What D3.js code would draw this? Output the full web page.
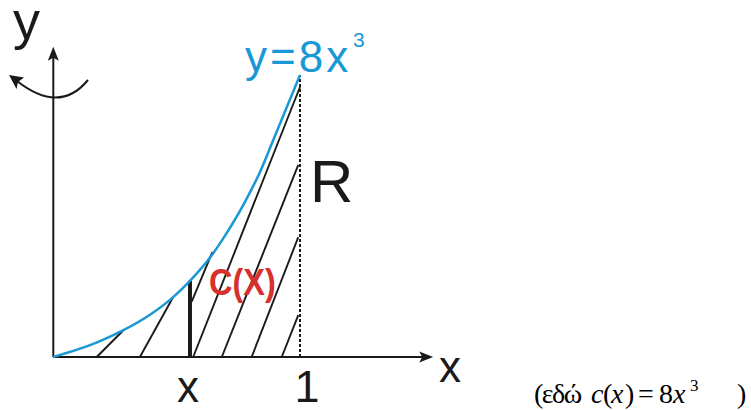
<!DOCTYPE html>
<html>
<head>
<meta charset="utf-8">
<script src="https://cdn.jsdelivr.net/npm/d3@7"></script>
<style>
  html, body { margin: 0; padding: 0; background: #fff; }
  svg { display: block; }
</style>
</head>
<body>
<div id="chart"></div>
<script>
// curve y = 8x^3 as drawn
const curveX = [0, 0.18, 0.284, 0.392, 0.486, 0.554, 0.649, 0.683, 0.777, 0.838, 0.9, 1.0];
const curveY = [0, 0.42, 0.76, 1.2, 1.7, 2.16, 2.95, 3.3, 4.4, 5.25, 6.3, 8.0];

// hatch strokes of region R: [x0, y0, x1, y1]
const hatchLines = [
  [0.176, 0, 0.284, 0.76],
  [0.351, 0, 0.486, 1.7],
  [0.561, 1.57, 0.645, 2.98],
  [0.567, 0, 1.0, 7.66],
  [0.683, 0, 0.993, 5.45],
  [0.804, 0, 0.993, 3.40],
  [0.926, 0, 0.993, 1.19]
];

const sliceX = 0.554;      // the thick segment c(x)
const sliceTop = 2.16;
const rightEdge = 1;       // dashed line x = 1
const rightTop = 8;
const axisMaxX = 1.54;
const axisMaxY = 8.8;

const width = 751, height = 410;
const blue = "#1a98d5", red = "#d8302c", ink = "#1a1a1a";

const x = d3.scaleLinear().domain([0, 1]).range([53.3, 300]);
const y = d3.scaleLinear().domain([0, 8]).range([357, 75]);

const svg = d3.select("#chart").append("svg")
  .attr("width", width)
  .attr("height", height)
  .style("font-family", "'Liberation Sans', Arial, sans-serif");

// hatching
svg.append("g")
  .selectAll("line")
  .data(hatchLines)
  .join("line")
  .attr("x1", d => x(d[0])).attr("y1", d => y(d[1]))
  .attr("x2", d => x(d[2])).attr("y2", d => y(d[3]))
  .attr("stroke", ink)
  .attr("stroke-width", 1.9);

// dashed right boundary
svg.append("line")
  .attr("x1", x(rightEdge)).attr("x2", x(rightEdge))
  .attr("y1", y(0)).attr("y2", y(rightTop))
  .attr("stroke", ink)
  .attr("stroke-width", 2)
  .attr("stroke-dasharray", "3,2");

// thick slice
svg.append("line")
  .attr("x1", x(sliceX)).attr("x2", x(sliceX))
  .attr("y1", y(0)).attr("y2", y(sliceTop))
  .attr("stroke", ink)
  .attr("stroke-width", 4);

// axes
const axisG = svg.append("g").attr("stroke", ink).attr("stroke-width", 2);
axisG.append("line")
  .attr("x1", x(0)).attr("y1", y(0))
  .attr("x2", x(axisMaxX) - 8).attr("y2", y(0));
axisG.append("line")
  .attr("x1", x(0)).attr("y1", y(0))
  .attr("x2", x(0)).attr("y2", y(axisMaxY) + 8);

const ax = x(axisMaxX), ay = y(axisMaxY);
svg.append("path")
  .attr("d", `M${ax},${y(0)} L${ax - 14},${y(0) - 5.5} L${ax - 11},${y(0)} L${ax - 14},${y(0) + 5.5} Z`)
  .attr("fill", ink);
svg.append("path")
  .attr("d", `M${x(0)},${ay} L${x(0) - 5.5},${ay + 14} L${x(0)},${ay + 11} L${x(0) + 5.5},${ay + 14} Z`)
  .attr("fill", ink);

// curve
const line = d3.line()
  .x((d, i) => x(curveX[i]))
  .y(d => y(d))
  .curve(d3.curveMonotoneX);

svg.append("path")
  .datum(curveY)
  .attr("d", line)
  .attr("fill", "none")
  .attr("stroke", blue)
  .attr("stroke-width", 2.5);

// rotation arrow around the y axis
svg.append("path")
  .attr("d", "M88,80 Q59.5,114.5 17,81")
  .attr("fill", "none")
  .attr("stroke", ink)
  .attr("stroke-width", 2);
svg.append("path")
  .attr("d", "M9,75 L24,77.5 L18,82 L16.5,89 Z")
  .attr("fill", ink);

// labels
svg.append("text").attr("x", 13).attr("y", 39)
  .attr("font-size", 54).attr("fill", ink).text("y");

const eq = svg.append("text").attr("x", 245).attr("y", 72)
  .attr("font-size", 44).attr("fill", blue);
eq.append("tspan").attr("letter-spacing", 3).text("y=8x");
eq.append("tspan").attr("x", 353).attr("y", 47).attr("font-size", 21).text("3");

svg.append("text").attr("x", 310).attr("y", 201.7)
  .attr("font-size", 60).attr("fill", ink).text("R");

svg.append("text")
  .attr("transform", "translate(209,294.7) scale(0.88,1)")
  .attr("font-size", 37).attr("font-weight", "bold").attr("fill", red)
  .text("C(X)");

svg.append("text").attr("x", x(sliceX) - 2).attr("y", 401.7)
  .attr("text-anchor", "middle")
  .attr("font-size", 44).attr("fill", ink).text("x");

svg.append("text").attr("x", x(rightEdge) + 7).attr("y", 401.7)
  .attr("text-anchor", "middle")
  .attr("font-size", 45).attr("fill", ink).text("1");

svg.append("text").attr("x", 439).attr("y", 381.7)
  .attr("font-size", 44).attr("fill", ink).text("x");

// note in the bottom right
const note = svg.append("text")
  .attr("y", 403)
  .attr("font-family", "'Liberation Serif', 'Times New Roman', serif")
  .attr("font-size", 28)
  .attr("fill", "#000");
note.append("tspan").attr("x", 534).attr("letter-spacing", -1.5).text("(εδώ");
note.append("tspan").attr("x", 591).attr("font-style", "italic").text("c");
note.append("tspan").attr("x", 603).text("(");
note.append("tspan").attr("x", 611).attr("font-style", "italic").text("x");
note.append("tspan").attr("x", 625).text(")");
note.append("tspan").attr("x", 638).text("=");
note.append("tspan").attr("x", 659).text("8");
note.append("tspan").attr("x", 673).attr("font-style", "italic").text("x");
note.append("tspan").attr("x", 690).attr("y", 391).attr("font-size", 17).text("3");
note.append("tspan").attr("x", 737).attr("y", 403).text(")");
</script>
</body>
</html>
